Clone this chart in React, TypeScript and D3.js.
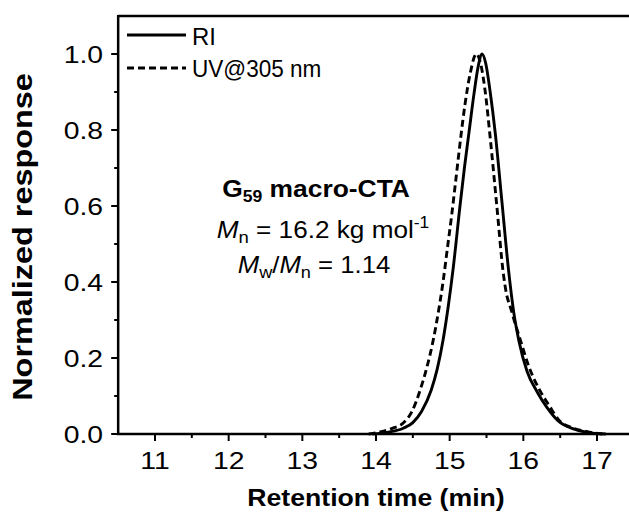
import React from "react";
import * as d3 from "d3";

const riTime = [13.95, 14.17, 14.37, 14.5, 14.62, 14.75, 14.83, 14.91, 14.98, 15.05, 15.14, 15.2, 15.26, 15.33, 15.39, 15.44, 15.49, 15.55, 15.62, 15.71, 15.8, 15.87, 15.94, 16.05, 16.19, 16.32, 16.47, 16.67, 16.87, 17.12];
const riValue = [0, 0.005, 0.015, 0.03, 0.06, 0.116, 0.17, 0.247, 0.335, 0.44, 0.6, 0.7, 0.79, 0.895, 0.97, 1.0, 0.975, 0.9, 0.79, 0.61, 0.43, 0.32, 0.245, 0.165, 0.11, 0.07, 0.035, 0.014, 0.004, 0];

const uvTime = [13.9, 14.07, 14.22, 14.37, 14.49, 14.6, 14.69, 14.78, 14.85, 14.91, 14.97, 15.03, 15.09, 15.15, 15.21, 15.28, 15.36, 15.42, 15.48, 15.55, 15.64, 15.73, 15.77, 15.83, 15.89, 15.96, 16.07, 16.22, 16.35, 16.49, 16.67, 16.87, 17.07];
const uvValue = [0, 0.006, 0.015, 0.029, 0.06, 0.116, 0.175, 0.25, 0.325, 0.4, 0.49, 0.58, 0.68, 0.78, 0.87, 0.95, 1.0, 0.975, 0.905, 0.78, 0.6, 0.42, 0.37, 0.33, 0.29, 0.247, 0.18, 0.116, 0.075, 0.035, 0.016, 0.006, 0];

const xTicks = [11, 12, 13, 14, 15, 16, 17];
const xMinor = [11.5, 12.5, 13.5, 14.5, 15.5, 16.5];
const yTicks = [0.0, 0.2, 0.4, 0.6, 0.8, 1.0];
const yMinor = [0.1, 0.3, 0.5, 0.7, 0.9];

const legendLabels = ["RI", "UV@305 nm"];
const xTitle = "Retention time (min)";
const yTitle = "Normalized response";

const font = "'Liberation Sans', Arial, sans-serif";

function SText(props: { x: number; y: number; sx?: number; rot?: number; anchor?: string; size: number; bold?: boolean; children: React.ReactNode }) {
  const { x, y, sx = 1, rot = 0, anchor = "start", size, bold, children } = props;
  return (
    <text
      transform={`translate(${x},${y})${rot ? ` rotate(${rot})` : ""} scale(${sx},1)`}
      textAnchor={anchor}
      fontSize={size}
      fontWeight={bold ? "bold" : "normal"}
      fill="#000"
    >
      {children}
    </text>
  );
}

export default function App() {
  const W = 629, H = 518;
  const top = 16, bottom = 434;
  const x = d3.scaleLinear().domain([11, 17]).range([155, 597]);
  const left = x(10.5);
  const right = x(17.5);
  const y = d3.scaleLinear().domain([0, 1]).range([bottom, 54]);
  const line = d3.line<[number, number]>().x(d => x(d[0])).y(d => y(d[1])).curve(d3.curveMonotoneX);
  const riPts = riTime.map((t, i) => [t, riValue[i]] as [number, number]);
  const uvPts = uvTime.map((t, i) => [t, uvValue[i]] as [number, number]);

  return (
    <svg width={W} height={H} style={{ position: "absolute", left: 0, top: 0 }} fontFamily={font}>
      <rect x={0} y={0} width={W} height={H} fill="#fff" />
      {/* curves */}
      <path d={line(riPts) || ""} fill="none" stroke="#000" strokeWidth={2.9} />
      <path d={line(uvPts) || ""} fill="none" stroke="#000" strokeWidth={2.9} strokeDasharray="7,4" />

      {/* axes */}
      <line x1={left} x2={right} y1={top} y2={top} stroke="#000" strokeWidth={2.5} />
      <line x1={left} x2={left} y1={top - 1} y2={bottom + 1} stroke="#000" strokeWidth={2.5} />
      <line x1={left - 1} x2={right} y1={bottom} y2={bottom} stroke="#000" strokeWidth={2.5} />

      {xTicks.map(t => (
        <g key={"xt" + t}>
          <line x1={x(t)} x2={x(t)} y1={bottom} y2={bottom + 7} stroke="#000" strokeWidth={2} />
          <SText x={x(t)} y={469} sx={1.18} anchor="middle" size={24}>{t}</SText>
        </g>
      ))}
      {xMinor.map(t => (
        <line key={"xm" + t} x1={x(t)} x2={x(t)} y1={bottom} y2={bottom + 4} stroke="#000" strokeWidth={2} />
      ))}
      {yTicks.map(t => (
        <g key={"yt" + t}>
          <line x1={left - 7} x2={left} y1={y(t)} y2={y(t)} stroke="#000" strokeWidth={2} />
          <SText x={103} y={y(t) + 8.5} sx={1.18} anchor="end" size={24}>{t.toFixed(1)}</SText>
        </g>
      ))}
      {yMinor.map(t => (
        <line key={"ym" + t} x1={left - 4} x2={left} y1={y(t)} y2={y(t)} stroke="#000" strokeWidth={2} />
      ))}

      {/* axis titles */}
      <SText x={376} y={506} sx={1.11} anchor="middle" size={24} bold>{xTitle}</SText>
      <SText x={32} y={237} rot={-90} sx={1.2} anchor="middle" size={27} bold>{yTitle}</SText>

      {/* legend */}
      <line x1={127} x2={186} y1={35} y2={35} stroke="#000" strokeWidth={2.8} />
      <SText x={192} y={45} sx={1.04} size={23}>{legendLabels[0]}</SText>
      <line x1={127} x2={186} y1={68} y2={68} stroke="#000" strokeWidth={2.8} strokeDasharray="7,4" />
      <SText x={192} y={77} sx={0.98} size={23}>{legendLabels[1]}</SText>

      {/* annotation */}
      <SText x={316} y={197} sx={1.1} anchor="middle" size={24} bold>
        G<tspan fontSize={16} dy={5}>59</tspan><tspan dy={-5}> macro-CTA</tspan>
      </SText>
      <SText x={323} y={238} sx={1.09} anchor="middle" size={24}>
        <tspan fontStyle="italic">M</tspan><tspan fontSize={17} dy={5}>n</tspan><tspan dy={-5}> = 16.2 kg mol</tspan><tspan fontSize={16} dy={-10}>-1</tspan>
      </SText>
      <SText x={314} y={273} sx={1.07} anchor="middle" size={24}>
        <tspan fontStyle="italic">M</tspan><tspan fontSize={17} dy={5}>w</tspan><tspan dy={-5}>/</tspan><tspan fontStyle="italic">M</tspan><tspan fontSize={17} dy={5}>n</tspan><tspan dy={-5}> = 1.14</tspan>
      </SText>
    </svg>
  );
}
